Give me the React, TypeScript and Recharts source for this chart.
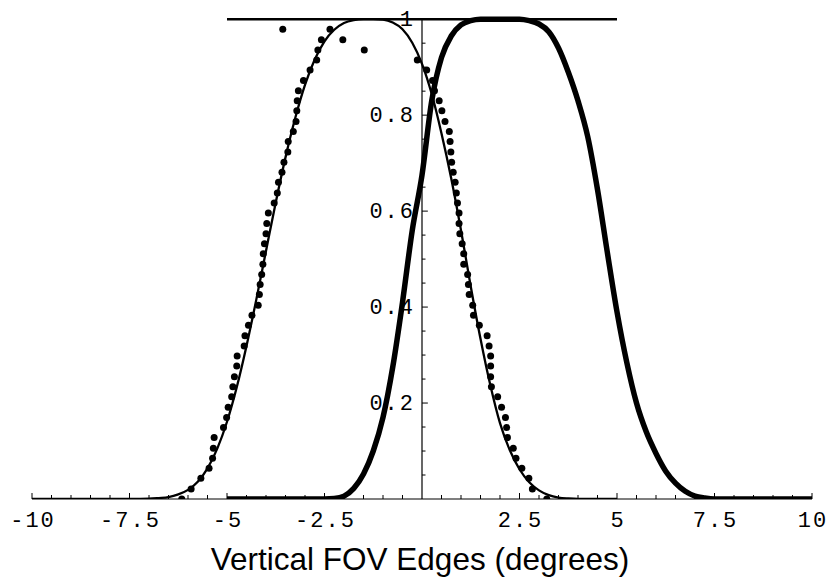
import { ComposedChart, Line, Scatter, XAxis, YAxis, ReferenceLine } from 'recharts';

// fitted curve (thin) and model curve (thick)
const thinX = [-10, -9, -8, -7.5, -7, -6.75, -6.5, -6.25, -6, -5.75, -5.5, -5.25, -5, -4.75, -4.5, -4.25, -4, -3.75, -3.5, -3.25, -3, -2.75, -2.5, -2.25, -2, -1.75, -1.5, -1.25, -1, -0.75, -0.5, -0.25, 0, 0.25, 0.5, 0.75, 1, 1.25, 1.5, 1.75, 2, 2.25, 2.5, 2.75, 3, 3.25, 3.5, 3.75, 4, 4.5, 5];
const thinY = [0, 0, 0, 0.0001, 0.0006, 0.002, 0.004, 0.0095, 0.019, 0.036, 0.064, 0.105, 0.161, 0.233, 0.319, 0.415, 0.517, 0.618, 0.712, 0.794, 0.863, 0.916, 0.954, 0.978, 0.992, 0.998, 1, 1, 0.999, 0.993, 0.979, 0.951, 0.907, 0.844, 0.762, 0.668, 0.56, 0.443, 0.334, 0.238, 0.158, 0.102, 0.062, 0.035, 0.018, 0.008, 0.003, 0.001, 0, 0, 0];

const thickX = [-5, -4, -3, -2.5, -2.25, -2, -1.75, -1.5, -1.25, -1, -0.75, -0.5, -0.25, 0, 0.25, 0.5, 0.75, 1, 1.25, 1.5, 2, 2.5, 2.75, 3, 3.25, 3.5, 3.75, 4, 4.25, 4.5, 4.75, 5, 5.25, 5.5, 5.75, 6, 6.25, 6.5, 6.75, 7, 7.25, 7.5, 8, 9, 10];
const thickY = [0, 0, 0, 0, 0.001, 0.006, 0.022, 0.052, 0.1, 0.17, 0.275, 0.41, 0.56, 0.675, 0.83, 0.92, 0.965, 0.988, 0.997, 1, 1, 1, 0.997, 0.99, 0.974, 0.94, 0.89, 0.83, 0.755, 0.645, 0.515, 0.39, 0.285, 0.2, 0.14, 0.095, 0.058, 0.033, 0.016, 0.006, 0.002, 0, 0, 0, 0];

const capX = [-5, 5];
const capY = [1, 1];

// measured points, on quantized levels
const dotLevels = [0.979, 0.957, 0.936, 0.915, 0.894, 0.872, 0.851, 0.83, 0.809, 0.787, 0.766, 0.745, 0.723, 0.702, 0.681, 0.66, 0.638, 0.617, 0.596, 0.574, 0.553, 0.532, 0.511, 0.489, 0.468, 0.447, 0.426, 0.404, 0.383, 0.362, 0.34, 0.319, 0.298, 0.277, 0.255, 0.234, 0.213, 0.191, 0.17, 0.149, 0.128, 0.106, 0.085, 0.064, 0.043, 0.021, 0];
const dotLeftX = [-2.36, -2.58, -2.67, -2.7, -2.87, -3.04, -3.17, -3.2, -3.21, -3.23, -3.3, -3.43, -3.44, -3.54, -3.59, -3.68, -3.71, -3.79, -3.94, -3.98, -4.0, -4.04, -4.07, -4.08, -4.11, -4.15, -4.17, -4.2, -4.36, -4.45, -4.54, -4.56, -4.74, -4.75, -4.81, -4.85, -4.88, -4.97, -5.01, -5.09, -5.33, -5.35, -5.37, -5.46, -5.67, -5.92, -6.16];
const dotRightX = [-2.03, -1.48, -0.12, 0.12, 0.27, 0.32, 0.44, 0.51, 0.59, 0.7, 0.72, 0.74, 0.76, 0.8, 0.85, 0.88, 0.91, 0.95, 0.95, 0.97, 1.03, 1.07, 1.07, 1.17, 1.19, 1.21, 1.3, 1.32, 1.47, 1.67, 1.72, 1.76, 1.76, 1.76, 1.78, 1.94, 2.04, 2.14, 2.17, 2.19, 2.34, 2.41, 2.56, 2.74, 2.83, 3.2];
const strayX = [-3.57];
const strayY = [0.979];

const xLabelTicks = [-10, -7.5, -5, -2.5, 2.5, 5, 7.5, 10];
const yLabelTicks = [0.2, 0.4, 0.6, 0.8, 1];
const yLabels = ['0.2', '0.4', '0.6', '0.8', '1'];

const zip = (xs: number[], ys: number[]) => xs.map((x, i) => ({ x, y: ys[i] }));

const thinData = zip(thinX, thinY);
const thickData = zip(thickX, thickY);
const capData = zip(capX, capY);
const dots = [
  ...zip(dotLeftX, dotLevels),
  ...zip(dotRightX, dotLevels.slice(1)),
  ...zip(strayX, strayY),
];

const xTicks = Array.from({ length: 41 }, (_, i) => -10 + i * 0.5);
const yTicks = Array.from({ length: 20 }, (_, i) => Math.round((i + 1) * 5) / 100);

const MONO = '"Liberation Mono", "DejaVu Sans Mono", monospace';
const SPACING = 2;

const XTick = (props: any) => {
  const { x, y, payload } = props;
  const v = payload.value as number;
  const labelled = xLabelTicks.includes(v);
  if (v === 0) return <g />;
  return (
    <g>
      <line x1={x} x2={x} y1={y} y2={y - (labelled ? 6 : 4)} stroke="#000" strokeWidth={1} />
      {labelled && (
        <text x={x} y={y + 28} dx={SPACING / 2} textAnchor="middle" fontFamily={MONO} fontSize={22} letterSpacing={SPACING} fill="#000">
          {String(v)}
        </text>
      )}
    </g>
  );
};

export default function App() {
  return (
    <div style={{ position: 'relative', width: 828, height: 583, background: '#fff' }}>
      <style>{'body{margin:0}'}</style>
      <ComposedChart width={828} height={583} margin={{ top: 0, right: 16, bottom: 24, left: 32 }}>
        <XAxis
          type="number"
          dataKey="x"
          domain={[-10, 10]}
          ticks={xTicks}
          interval={0}
          height={60}
          tickSize={0}
          tickMargin={0}
          tickLine={false}
          axisLine={{ stroke: '#000', strokeWidth: 1.2 }}
          tick={<XTick />}
        />
        <YAxis type="number" dataKey="y" domain={[0, 1.04]} allowDataOverflow hide />
        <ReferenceLine segment={[{ x: 0, y: 0 }, { x: 0, y: 1 }]} stroke="#000" strokeWidth={1.2} />
        {yTicks.map((v) => {
          const i = yLabelTicks.findIndex((t) => Math.abs(t - v) < 1e-6);
          return (
            <ReferenceLine
              key={v}
              segment={[{ x: 0, y: v }, { x: i >= 0 ? 0.15 : 0.09, y: v }]}
              stroke="#000"
              strokeWidth={1}
              label={
                i >= 0
                  ? (p: any) => (
                      <text x={p.viewBox.x - 7} y={p.viewBox.y + 7} textAnchor="end" fontFamily={MONO} fontSize={22} letterSpacing={SPACING} fill="#000">
                        {yLabels[i]}
                      </text>
                    )
                  : undefined
              }
            />
          );
        })}
        <Line data={capData} dataKey="y" type="linear" stroke="#000" strokeWidth={2.5} dot={false} activeDot={false} isAnimationActive={false} />
        <Line data={thickData} dataKey="y" type="monotone" stroke="#000" strokeWidth={5.5} dot={false} activeDot={false} isAnimationActive={false} />
        <Line data={thinData} dataKey="y" type="monotone" stroke="#000" strokeWidth={2.3} dot={false} activeDot={false} isAnimationActive={false} />
        <Scatter
          data={dots}
          fill="#000"
          isAnimationActive={false}
          shape={(p: any) => <circle cx={p.cx} cy={p.cy} r={3.5} fill="#000" />}
        />
      </ComposedChart>
      <svg width={828} height={583} style={{ position: 'absolute', left: 0, top: 0, pointerEvents: 'none' }}>
        <text x={420} y={570} textAnchor="middle" fontFamily='"Liberation Sans", Arial, sans-serif' fontSize={31.5} fill="#000">
          Vertical FOV Edges (degrees)
        </text>
      </svg>
    </div>
  );
}
